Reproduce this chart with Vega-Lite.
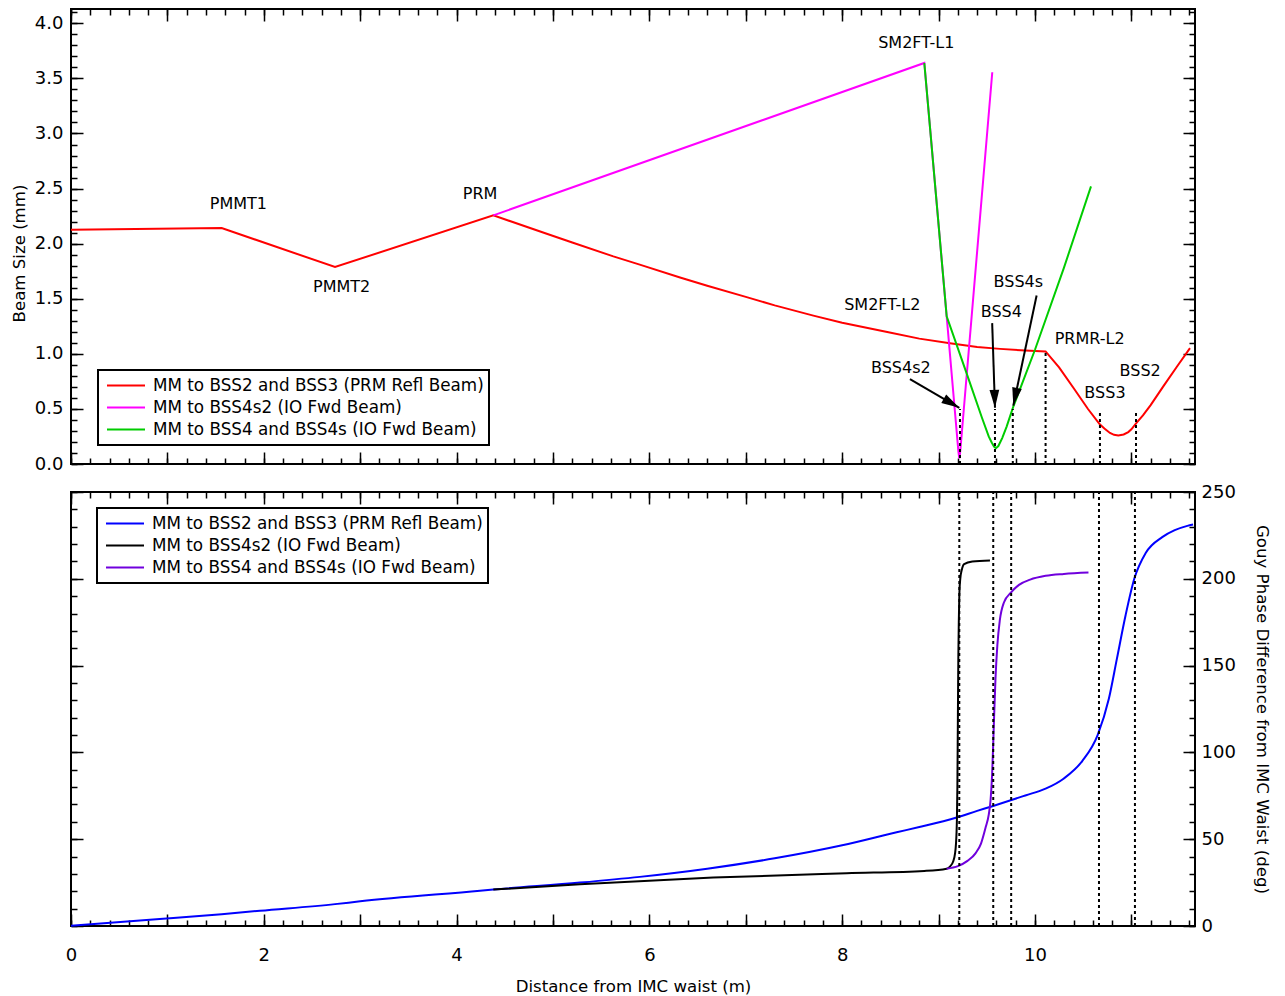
{
  "$schema": "https://vega.github.io/schema/vega-lite/v6.json",
  "background": "white",
  "padding": {"left": 10, "top": 7, "right": 5, "bottom": 0},
  "spacing": 8,
  "resolve": {"scale": {"color": "independent"}, "legend": {"color": "independent"}},
  "config": {
    "view": {"stroke": "black", "strokeWidth": 2},
    "font": "DejaVu Sans",
    "axis": {"domain": false, "grid": false, "tickColor": "black", "tickWidth": 1.5, "labelColor": "black", "labelFont": "DejaVu Sans", "labelFontSize": 18, "titleFont": "DejaVu Sans", "titleFontSize": 16.6, "titleFontWeight": "normal", "titleColor": "black", "labelFlush": false, "labelOverlap": false},
    "legend": {"symbolType": "stroke", "symbolSize": 1444, "symbolStrokeWidth": 2, "clipHeight": 21, "rowPadding": 1, "padding": 5, "strokeColor": "black", "strokeWidth": 2, "fillColor": "white", "labelFont": "DejaVu Sans", "labelFontSize": 16.8, "labelColor": "black", "labelOffset": 7, "symbolOffset": 3, "labelLimit": 0}
  },
  "datasets": {
    "beam": [
      {"series": "MM to BSS2 and BSS3 (PRM Refl Beam)", "x": 0, "w": 2.127},
      {"series": "MM to BSS2 and BSS3 (PRM Refl Beam)", "x": 1.563, "w": 2.142},
      {"series": "MM to BSS2 and BSS3 (PRM Refl Beam)", "x": 2.739, "w": 1.788},
      {"series": "MM to BSS2 and BSS3 (PRM Refl Beam)", "x": 4.381, "w": 2.257},
      {"series": "MM to BSS2 and BSS3 (PRM Refl Beam)", "x": 4.935, "w": 2.09},
      {"series": "MM to BSS2 and BSS3 (PRM Refl Beam)", "x": 5.2, "w": 2.011},
      {"series": "MM to BSS2 and BSS3 (PRM Refl Beam)", "x": 5.626, "w": 1.885},
      {"series": "MM to BSS2 and BSS3 (PRM Refl Beam)", "x": 5.9, "w": 1.81},
      {"series": "MM to BSS2 and BSS3 (PRM Refl Beam)", "x": 6.318, "w": 1.693},
      {"series": "MM to BSS2 and BSS3 (PRM Refl Beam)", "x": 6.6, "w": 1.618},
      {"series": "MM to BSS2 and BSS3 (PRM Refl Beam)", "x": 7.009, "w": 1.515},
      {"series": "MM to BSS2 and BSS3 (PRM Refl Beam)", "x": 7.3, "w": 1.44},
      {"series": "MM to BSS2 and BSS3 (PRM Refl Beam)", "x": 7.701, "w": 1.347},
      {"series": "MM to BSS2 and BSS3 (PRM Refl Beam)", "x": 8.0, "w": 1.283},
      {"series": "MM to BSS2 and BSS3 (PRM Refl Beam)", "x": 8.48, "w": 1.195},
      {"series": "MM to BSS2 and BSS3 (PRM Refl Beam)", "x": 8.8, "w": 1.138},
      {"series": "MM to BSS2 and BSS3 (PRM Refl Beam)", "x": 9.118, "w": 1.096},
      {"series": "MM to BSS2 and BSS3 (PRM Refl Beam)", "x": 9.4, "w": 1.063},
      {"series": "MM to BSS2 and BSS3 (PRM Refl Beam)", "x": 9.637, "w": 1.045},
      {"series": "MM to BSS2 and BSS3 (PRM Refl Beam)", "x": 9.9, "w": 1.03},
      {"series": "MM to BSS2 and BSS3 (PRM Refl Beam)", "x": 10.11, "w": 1.022},
      {"series": "MM to BSS2 and BSS3 (PRM Refl Beam)", "x": 10.25, "w": 0.877},
      {"series": "MM to BSS2 and BSS3 (PRM Refl Beam)", "x": 10.4, "w": 0.69},
      {"series": "MM to BSS2 and BSS3 (PRM Refl Beam)", "x": 10.55, "w": 0.499},
      {"series": "MM to BSS2 and BSS3 (PRM Refl Beam)", "x": 10.672, "w": 0.36},
      {"series": "MM to BSS2 and BSS3 (PRM Refl Beam)", "x": 10.72, "w": 0.322},
      {"series": "MM to BSS2 and BSS3 (PRM Refl Beam)", "x": 10.778, "w": 0.282},
      {"series": "MM to BSS2 and BSS3 (PRM Refl Beam)", "x": 10.82, "w": 0.265},
      {"series": "MM to BSS2 and BSS3 (PRM Refl Beam)", "x": 10.864, "w": 0.259},
      {"series": "MM to BSS2 and BSS3 (PRM Refl Beam)", "x": 10.92, "w": 0.268},
      {"series": "MM to BSS2 and BSS3 (PRM Refl Beam)", "x": 10.968, "w": 0.29},
      {"series": "MM to BSS2 and BSS3 (PRM Refl Beam)", "x": 11.0, "w": 0.315},
      {"series": "MM to BSS2 and BSS3 (PRM Refl Beam)", "x": 11.055, "w": 0.375},
      {"series": "MM to BSS2 and BSS3 (PRM Refl Beam)", "x": 11.12, "w": 0.441},
      {"series": "MM to BSS2 and BSS3 (PRM Refl Beam)", "x": 11.2, "w": 0.534},
      {"series": "MM to BSS2 and BSS3 (PRM Refl Beam)", "x": 11.331, "w": 0.705},
      {"series": "MM to BSS2 and BSS3 (PRM Refl Beam)", "x": 11.47, "w": 0.88},
      {"series": "MM to BSS2 and BSS3 (PRM Refl Beam)", "x": 11.608, "w": 1.052},
      {"series": "MM to BSS4s2 (IO Fwd Beam)", "x": 4.381, "w": 2.257},
      {"series": "MM to BSS4s2 (IO Fwd Beam)", "x": 8.852, "w": 3.64},
      {"series": "MM to BSS4s2 (IO Fwd Beam)", "x": 9.084, "w": 1.34},
      {"series": "MM to BSS4s2 (IO Fwd Beam)", "x": 9.197, "w": 0.2},
      {"series": "MM to BSS4s2 (IO Fwd Beam)", "x": 9.206, "w": 0.11},
      {"series": "MM to BSS4s2 (IO Fwd Beam)", "x": 9.215, "w": 0.05},
      {"series": "MM to BSS4s2 (IO Fwd Beam)", "x": 9.224, "w": 0.11},
      {"series": "MM to BSS4s2 (IO Fwd Beam)", "x": 9.233, "w": 0.2},
      {"series": "MM to BSS4s2 (IO Fwd Beam)", "x": 9.557, "w": 3.556},
      {"series": "MM to BSS4 and BSS4s (IO Fwd Beam)", "x": 8.852, "w": 3.64},
      {"series": "MM to BSS4 and BSS4s (IO Fwd Beam)", "x": 9.084, "w": 1.34},
      {"series": "MM to BSS4 and BSS4s (IO Fwd Beam)", "x": 9.3, "w": 0.8},
      {"series": "MM to BSS4 and BSS4s (IO Fwd Beam)", "x": 9.45, "w": 0.42},
      {"series": "MM to BSS4 and BSS4s (IO Fwd Beam)", "x": 9.52, "w": 0.25},
      {"series": "MM to BSS4 and BSS4s (IO Fwd Beam)", "x": 9.551, "w": 0.195},
      {"series": "MM to BSS4 and BSS4s (IO Fwd Beam)", "x": 9.575, "w": 0.158},
      {"series": "MM to BSS4 and BSS4s (IO Fwd Beam)", "x": 9.595, "w": 0.144},
      {"series": "MM to BSS4 and BSS4s (IO Fwd Beam)", "x": 9.62, "w": 0.163},
      {"series": "MM to BSS4 and BSS4s (IO Fwd Beam)", "x": 9.66, "w": 0.235},
      {"series": "MM to BSS4 and BSS4s (IO Fwd Beam)", "x": 9.706, "w": 0.34},
      {"series": "MM to BSS4 and BSS4s (IO Fwd Beam)", "x": 9.775, "w": 0.52},
      {"series": "MM to BSS4 and BSS4s (IO Fwd Beam)", "x": 10.0, "w": 1.037},
      {"series": "MM to BSS4 and BSS4s (IO Fwd Beam)", "x": 10.3, "w": 1.78},
      {"series": "MM to BSS4 and BSS4s (IO Fwd Beam)", "x": 10.581, "w": 2.52}
    ],
    "gouy": [
      {"series": "MM to BSS2 and BSS3 (PRM Refl Beam)", "x": 0, "g": 0.2},
      {"series": "MM to BSS2 and BSS3 (PRM Refl Beam)", "x": 0.92, "g": 4.0},
      {"series": "MM to BSS2 and BSS3 (PRM Refl Beam)", "x": 1.563, "g": 6.8},
      {"series": "MM to BSS2 and BSS3 (PRM Refl Beam)", "x": 1.96, "g": 8.8},
      {"series": "MM to BSS2 and BSS3 (PRM Refl Beam)", "x": 2.739, "g": 12.6},
      {"series": "MM to BSS2 and BSS3 (PRM Refl Beam)", "x": 3.0, "g": 14.2},
      {"series": "MM to BSS2 and BSS3 (PRM Refl Beam)", "x": 4.243, "g": 20.3},
      {"series": "MM to BSS2 and BSS3 (PRM Refl Beam)", "x": 4.381, "g": 21.0},
      {"series": "MM to BSS2 and BSS3 (PRM Refl Beam)", "x": 5.28, "g": 25.0},
      {"series": "MM to BSS2 and BSS3 (PRM Refl Beam)", "x": 5.9, "g": 28.3},
      {"series": "MM to BSS2 and BSS3 (PRM Refl Beam)", "x": 6.6, "g": 33.0},
      {"series": "MM to BSS2 and BSS3 (PRM Refl Beam)", "x": 7.3, "g": 39.0},
      {"series": "MM to BSS2 and BSS3 (PRM Refl Beam)", "x": 8.0, "g": 46.5},
      {"series": "MM to BSS2 and BSS3 (PRM Refl Beam)", "x": 8.565, "g": 54.0},
      {"series": "MM to BSS2 and BSS3 (PRM Refl Beam)", "x": 8.8, "g": 57.0},
      {"series": "MM to BSS2 and BSS3 (PRM Refl Beam)", "x": 9.188, "g": 62.5},
      {"series": "MM to BSS2 and BSS3 (PRM Refl Beam)", "x": 9.4, "g": 66.3},
      {"series": "MM to BSS2 and BSS3 (PRM Refl Beam)", "x": 9.558, "g": 69.0},
      {"series": "MM to BSS2 and BSS3 (PRM Refl Beam)", "x": 9.748, "g": 72.4},
      {"series": "MM to BSS2 and BSS3 (PRM Refl Beam)", "x": 9.9, "g": 75.2},
      {"series": "MM to BSS2 and BSS3 (PRM Refl Beam)", "x": 10.11, "g": 79.1},
      {"series": "MM to BSS2 and BSS3 (PRM Refl Beam)", "x": 10.3, "g": 85.0},
      {"series": "MM to BSS2 and BSS3 (PRM Refl Beam)", "x": 10.49, "g": 95.0},
      {"series": "MM to BSS2 and BSS3 (PRM Refl Beam)", "x": 10.65, "g": 110.0},
      {"series": "MM to BSS2 and BSS3 (PRM Refl Beam)", "x": 10.767, "g": 131.0},
      {"series": "MM to BSS2 and BSS3 (PRM Refl Beam)", "x": 10.85, "g": 154.0},
      {"series": "MM to BSS2 and BSS3 (PRM Refl Beam)", "x": 10.94, "g": 179.0},
      {"series": "MM to BSS2 and BSS3 (PRM Refl Beam)", "x": 11.03, "g": 200.0},
      {"series": "MM to BSS2 and BSS3 (PRM Refl Beam)", "x": 11.15, "g": 215.0},
      {"series": "MM to BSS2 and BSS3 (PRM Refl Beam)", "x": 11.32, "g": 224.0},
      {"series": "MM to BSS2 and BSS3 (PRM Refl Beam)", "x": 11.45, "g": 228.0},
      {"series": "MM to BSS2 and BSS3 (PRM Refl Beam)", "x": 11.58, "g": 230.5},
      {"series": "MM to BSS2 and BSS3 (PRM Refl Beam)", "x": 11.64, "g": 231.3},
      {"series": "MM to BSS4s2 (IO Fwd Beam)", "x": 4.381, "g": 21.0},
      {"series": "MM to BSS4s2 (IO Fwd Beam)", "x": 5.28, "g": 24.1},
      {"series": "MM to BSS4s2 (IO Fwd Beam)", "x": 6.663, "g": 27.9},
      {"series": "MM to BSS4s2 (IO Fwd Beam)", "x": 8.047, "g": 30.4},
      {"series": "MM to BSS4s2 (IO Fwd Beam)", "x": 8.852, "g": 31.7},
      {"series": "MM to BSS4s2 (IO Fwd Beam)", "x": 9.084, "g": 33.0},
      {"series": "MM to BSS4s2 (IO Fwd Beam)", "x": 9.12, "g": 34.4},
      {"series": "MM to BSS4s2 (IO Fwd Beam)", "x": 9.15, "g": 37.0},
      {"series": "MM to BSS4s2 (IO Fwd Beam)", "x": 9.17, "g": 41.5},
      {"series": "MM to BSS4s2 (IO Fwd Beam)", "x": 9.18, "g": 47.0},
      {"series": "MM to BSS4s2 (IO Fwd Beam)", "x": 9.19, "g": 61.0},
      {"series": "MM to BSS4s2 (IO Fwd Beam)", "x": 9.195, "g": 80.0},
      {"series": "MM to BSS4s2 (IO Fwd Beam)", "x": 9.2, "g": 118.0},
      {"series": "MM to BSS4s2 (IO Fwd Beam)", "x": 9.205, "g": 155.0},
      {"series": "MM to BSS4s2 (IO Fwd Beam)", "x": 9.21, "g": 176.0},
      {"series": "MM to BSS4s2 (IO Fwd Beam)", "x": 9.215, "g": 190.0},
      {"series": "MM to BSS4s2 (IO Fwd Beam)", "x": 9.225, "g": 200.0},
      {"series": "MM to BSS4s2 (IO Fwd Beam)", "x": 9.24, "g": 205.0},
      {"series": "MM to BSS4s2 (IO Fwd Beam)", "x": 9.265, "g": 208.5},
      {"series": "MM to BSS4s2 (IO Fwd Beam)", "x": 9.35, "g": 210.0},
      {"series": "MM to BSS4s2 (IO Fwd Beam)", "x": 9.533, "g": 210.6},
      {"series": "MM to BSS4 and BSS4s (IO Fwd Beam)", "x": 9.084, "g": 33.0},
      {"series": "MM to BSS4 and BSS4s (IO Fwd Beam)", "x": 9.2, "g": 34.5},
      {"series": "MM to BSS4 and BSS4s (IO Fwd Beam)", "x": 9.3, "g": 37.5},
      {"series": "MM to BSS4 and BSS4s (IO Fwd Beam)", "x": 9.385, "g": 42.0},
      {"series": "MM to BSS4 and BSS4s (IO Fwd Beam)", "x": 9.44, "g": 47.5},
      {"series": "MM to BSS4 and BSS4s (IO Fwd Beam)", "x": 9.489, "g": 57.0},
      {"series": "MM to BSS4 and BSS4s (IO Fwd Beam)", "x": 9.52, "g": 64.0},
      {"series": "MM to BSS4 and BSS4s (IO Fwd Beam)", "x": 9.54, "g": 73.0},
      {"series": "MM to BSS4 and BSS4s (IO Fwd Beam)", "x": 9.555, "g": 87.0},
      {"series": "MM to BSS4 and BSS4s (IO Fwd Beam)", "x": 9.565, "g": 102.0},
      {"series": "MM to BSS4 and BSS4s (IO Fwd Beam)", "x": 9.575, "g": 119.0},
      {"series": "MM to BSS4 and BSS4s (IO Fwd Beam)", "x": 9.59, "g": 142.0},
      {"series": "MM to BSS4 and BSS4s (IO Fwd Beam)", "x": 9.61, "g": 162.0},
      {"series": "MM to BSS4 and BSS4s (IO Fwd Beam)", "x": 9.635, "g": 176.0},
      {"series": "MM to BSS4 and BSS4s (IO Fwd Beam)", "x": 9.679, "g": 186.5},
      {"series": "MM to BSS4 and BSS4s (IO Fwd Beam)", "x": 9.75, "g": 192.0},
      {"series": "MM to BSS4 and BSS4s (IO Fwd Beam)", "x": 9.834, "g": 196.5},
      {"series": "MM to BSS4 and BSS4s (IO Fwd Beam)", "x": 9.95, "g": 199.5},
      {"series": "MM to BSS4 and BSS4s (IO Fwd Beam)", "x": 10.11, "g": 201.7},
      {"series": "MM to BSS4 and BSS4s (IO Fwd Beam)", "x": 10.3, "g": 202.8},
      {"series": "MM to BSS4 and BSS4s (IO Fwd Beam)", "x": 10.555, "g": 203.6}
    ],
    "topmarks": [
      {"name": "BSS4s2", "x": 9.222, "lo": 0, "hi": 0.5},
      {"name": "BSS4", "x": 9.585, "lo": 0, "hi": 0.5},
      {"name": "BSS4s", "x": 9.77, "lo": 0, "hi": 0.5},
      {"name": "PRMR-L2", "x": 10.11, "lo": 0, "hi": 1.02},
      {"name": "BSS3", "x": 10.674, "lo": 0, "hi": 0.48},
      {"name": "BSS2", "x": 11.048, "lo": 0, "hi": 0.48}
    ],
    "bottommarks": [
      {"name": "BSS4s2", "x": 9.215, "lo": 0, "hi": 250},
      {"name": "BSS4", "x": 9.567, "lo": 0, "hi": 250},
      {"name": "BSS4s", "x": 9.753, "lo": 0, "hi": 250},
      {"name": "BSS3", "x": 10.664, "lo": 0, "hi": 250},
      {"name": "BSS2", "x": 11.037, "lo": 0, "hi": 250}
    ],
    "arrows": [
      {"name": "BSS4s2", "x": 8.703, "y": 0.77, "x2": 9.215, "y2": 0.51},
      {"name": "BSS4", "x": 9.556, "y": 1.279, "x2": 9.585, "y2": 0.51},
      {"name": "BSS4s", "x": 10.017, "y": 1.53, "x2": 9.775, "y2": 0.53}
    ],
    "labels": [
      {"label": "PMMT1", "x": 1.736, "y": 2.36},
      {"label": "PMMT2", "x": 2.808, "y": 1.606},
      {"label": "PRM", "x": 4.243, "y": 2.448},
      {"label": "SM2FT-L1", "x": 8.769, "y": 3.822},
      {"label": "SM2FT-L2", "x": 8.416, "y": 1.446},
      {"label": "BSS4s2", "x": 8.608, "y": 0.87},
      {"label": "BSS4", "x": 9.651, "y": 1.376},
      {"label": "BSS4s", "x": 9.827, "y": 1.649},
      {"label": "PRMR-L2", "x": 10.567, "y": 1.137},
      {"label": "BSS3", "x": 10.726, "y": 0.643},
      {"label": "BSS2", "x": 11.091, "y": 0.84}
    ]
  },
  "vconcat": [
    {
      "width": 1124,
      "height": 455,
      "resolve": {"axis": {"x": "independent", "y": "independent"}},
      "layer": [
        {
          "data": {"name": "beam"},
          "transform": [{"filter": {"field": "series", "equal": "MM to BSS2 and BSS3 (PRM Refl Beam)"}}],
          "mark": {"type": "line", "strokeWidth": 2},
          "encoding": {
            "x": {"field": "x", "type": "quantitative", "scale": {"domain": [0, 11.66], "nice": false, "zero": false}, "axis": {"orient": "bottom", "values": [0,1,2,3,4,5,6,7,8,9,10,11], "tickSize": -12, "labels": false, "title": null}},
            "y": {"field": "w", "type": "quantitative", "scale": {"domain": [0, 4.13], "nice": false}, "axis": {"orient": "left", "values": [0,0.5,1,1.5,2,2.5,3,3.5,4], "tickSize": -12, "labelPadding": 20, "format": ".1f", "title": "Beam Size (mm)", "titlePadding": 7, "titleY": 244}},
            "color": {"field": "series", "type": "nominal", "scale": {"domain": ["MM to BSS2 and BSS3 (PRM Refl Beam)", "MM to BSS4s2 (IO Fwd Beam)", "MM to BSS4 and BSS4s (IO Fwd Beam)"], "range": ["#ff0000", "#ff00ff", "#00cc00"]}, "legend": {"orient": "none", "legendX": 27, "legendY": 361, "title": null}}
          }
        },
        {
          "data": {"name": "beam"},
          "transform": [{"filter": {"field": "series", "equal": "MM to BSS4s2 (IO Fwd Beam)"}}],
          "mark": {"type": "line", "strokeWidth": 2},
          "encoding": {
            "x": {"field": "x", "type": "quantitative", "axis": {"orient": "bottom", "values": [0,0.2,0.4,0.6,0.8,1,1.2,1.4,1.6,1.8,2,2.2,2.4,2.6,2.8,3,3.2,3.4,3.6,3.8,4,4.2,4.4,4.6,4.8,5,5.2,5.4,5.6,5.8,6,6.2,6.4,6.6,6.8,7,7.2,7.4,7.6,7.8,8,8.2,8.4,8.6,8.8,9,9.2,9.4,9.6,9.8,10,10.2,10.4,10.6,10.8,11,11.2,11.4,11.6], "tickSize": -6, "labels": false, "title": null}},
            "y": {"field": "w", "type": "quantitative", "axis": {"orient": "left", "values": [0,0.1,0.2,0.3,0.4,0.5,0.6,0.7,0.8,0.9,1,1.1,1.2,1.3,1.4,1.5,1.6,1.7,1.8,1.9,2,2.1,2.2,2.3,2.4,2.5,2.6,2.7,2.8,2.9,3,3.1,3.2,3.3,3.4,3.5,3.6,3.7,3.8,3.9,4,4.1], "tickSize": -6, "labels": false, "title": null}},
            "color": {"field": "series", "type": "nominal", "legend": {"orient": "none", "legendX": 27, "legendY": 361, "title": null}}
          }
        },
        {
          "data": {"name": "beam"},
          "transform": [{"filter": {"field": "series", "equal": "MM to BSS4 and BSS4s (IO Fwd Beam)"}}],
          "mark": {"type": "line", "strokeWidth": 2},
          "encoding": {
            "x": {"field": "x", "type": "quantitative", "axis": {"orient": "top", "values": [0,1,2,3,4,5,6,7,8,9,10,11], "tickSize": -12, "labels": false, "title": null}},
            "y": {"field": "w", "type": "quantitative", "axis": {"orient": "right", "values": [0,0.5,1,1.5,2,2.5,3,3.5,4], "tickSize": -12, "labels": false, "title": null}},
            "color": {"field": "series", "type": "nominal", "legend": {"orient": "none", "legendX": 27, "legendY": 361, "title": null}}
          }
        },
        {
          "data": {"name": "topmarks"},
          "mark": {"type": "rule", "color": "black", "strokeWidth": 2, "strokeDash": [3, 3]},
          "encoding": {
            "x": {"field": "x", "type": "quantitative", "axis": {"orient": "top", "values": [0,0.2,0.4,0.6,0.8,1,1.2,1.4,1.6,1.8,2,2.2,2.4,2.6,2.8,3,3.2,3.4,3.6,3.8,4,4.2,4.4,4.6,4.8,5,5.2,5.4,5.6,5.8,6,6.2,6.4,6.6,6.8,7,7.2,7.4,7.6,7.8,8,8.2,8.4,8.6,8.8,9,9.2,9.4,9.6,9.8,10,10.2,10.4,10.6,10.8,11,11.2,11.4,11.6], "tickSize": -6, "labels": false, "title": null}},
            "y": {"field": "lo", "type": "quantitative", "axis": {"orient": "right", "values": [0,0.1,0.2,0.3,0.4,0.5,0.6,0.7,0.8,0.9,1,1.1,1.2,1.3,1.4,1.5,1.6,1.7,1.8,1.9,2,2.1,2.2,2.3,2.4,2.5,2.6,2.7,2.8,2.9,3,3.1,3.2,3.3,3.4,3.5,3.6,3.7,3.8,3.9,4,4.1], "tickSize": -6, "labels": false, "title": null}},
            "y2": {"field": "hi"}
          }
        },
        {
          "data": {"name": "arrows"},
          "mark": {"type": "rule", "color": "black", "strokeWidth": 2},
          "encoding": {
            "x": {"field": "x", "type": "quantitative", "axis": null},
            "y": {"field": "y", "type": "quantitative", "axis": null},
            "x2": {"field": "x2"},
            "y2": {"field": "y2"}
          }
        },
        {
          "data": {"name": "arrows"},
          "transform": [{"calculate": "atan2((datum.x2 - datum.x) * 96.4, (datum.y2 - datum.y) * 110.1) * 180 / PI", "as": "ang"}],
          "mark": {"type": "point", "shape": "M0,0L-0.27,1L0.27,1Z", "filled": true, "color": "black", "opacity": 1, "size": 1296, "strokeWidth": 0},
          "encoding": {
            "x": {"field": "x2", "type": "quantitative", "axis": null},
            "y": {"field": "y2", "type": "quantitative", "axis": null},
            "angle": {"field": "ang", "type": "quantitative", "scale": null}
          }
        },
        {
          "data": {"name": "labels"},
          "mark": {"type": "text", "font": "DejaVu Sans", "fontSize": 16, "color": "black", "align": "center", "baseline": "middle"},
          "encoding": {
            "x": {"field": "x", "type": "quantitative", "axis": null},
            "y": {"field": "y", "type": "quantitative", "axis": null},
            "text": {"field": "label"}
          }
        }
      ]
    },
    {
      "width": 1124,
      "height": 434,
      "resolve": {"axis": {"x": "independent", "y": "independent"}},
      "layer": [
        {
          "data": {"name": "gouy"},
          "transform": [{"filter": {"field": "series", "equal": "MM to BSS2 and BSS3 (PRM Refl Beam)"}}],
          "mark": {"type": "line", "strokeWidth": 2, "interpolate": "monotone"},
          "encoding": {
            "x": {"field": "x", "type": "quantitative", "scale": {"domain": [0, 11.66], "nice": false, "zero": false}, "axis": {"orient": "bottom", "values": [0,1,2,3,4,5,6,7,8,9,10,11], "tickSize": -12, "labelPadding": 32, "labelExpr": "datum.value % 2 === 0 ? datum.label : ''", "title": "Distance from IMC waist (m)", "titlePadding": 14}},
            "y": {"field": "g", "type": "quantitative", "scale": {"domain": [0, 250], "nice": false}, "axis": {"orient": "left", "values": [0,50,100,150,200,250], "tickSize": -12, "labels": false, "title": null}},
            "color": {"field": "series", "type": "nominal", "scale": {"domain": ["MM to BSS2 and BSS3 (PRM Refl Beam)", "MM to BSS4s2 (IO Fwd Beam)", "MM to BSS4 and BSS4s (IO Fwd Beam)"], "range": ["#0000ff", "#000000", "#7000dd"]}, "legend": {"orient": "none", "legendX": 26, "legendY": 16, "title": null}}
          }
        },
        {
          "data": {"name": "gouy"},
          "transform": [{"filter": {"field": "series", "equal": "MM to BSS4s2 (IO Fwd Beam)"}}],
          "mark": {"type": "line", "strokeWidth": 2, "interpolate": "monotone"},
          "encoding": {
            "x": {"field": "x", "type": "quantitative", "axis": {"orient": "bottom", "values": [0,0.2,0.4,0.6,0.8,1,1.2,1.4,1.6,1.8,2,2.2,2.4,2.6,2.8,3,3.2,3.4,3.6,3.8,4,4.2,4.4,4.6,4.8,5,5.2,5.4,5.6,5.8,6,6.2,6.4,6.6,6.8,7,7.2,7.4,7.6,7.8,8,8.2,8.4,8.6,8.8,9,9.2,9.4,9.6,9.8,10,10.2,10.4,10.6,10.8,11,11.2,11.4,11.6], "tickSize": -6, "labels": false, "title": null}},
            "y": {"field": "g", "type": "quantitative", "axis": {"orient": "left", "values": [0,10,20,30,40,50,60,70,80,90,100,110,120,130,140,150,160,170,180,190,200,210,220,230,240,250], "tickSize": -6, "labels": false, "title": null}},
            "color": {"field": "series", "type": "nominal", "legend": {"orient": "none", "legendX": 26, "legendY": 16, "title": null}}
          }
        },
        {
          "data": {"name": "gouy"},
          "transform": [{"filter": {"field": "series", "equal": "MM to BSS4 and BSS4s (IO Fwd Beam)"}}],
          "mark": {"type": "line", "strokeWidth": 2, "interpolate": "monotone"},
          "encoding": {
            "x": {"field": "x", "type": "quantitative", "axis": {"orient": "top", "values": [0,1,2,3,4,5,6,7,8,9,10,11], "tickSize": -12, "labels": false, "title": null}},
            "y": {"field": "g", "type": "quantitative", "axis": {"orient": "right", "values": [0,50,100,150,200,250], "tickSize": -12, "labelPadding": 18, "title": "Gouy Phase Difference from IMC Waist (deg)", "titlePadding": 18}},
            "color": {"field": "series", "type": "nominal", "legend": {"orient": "none", "legendX": 26, "legendY": 16, "title": null}}
          }
        },
        {
          "data": {"name": "bottommarks"},
          "mark": {"type": "rule", "color": "black", "strokeWidth": 2, "strokeDash": [3, 3]},
          "encoding": {
            "x": {"field": "x", "type": "quantitative", "axis": {"orient": "top", "values": [0,0.2,0.4,0.6,0.8,1,1.2,1.4,1.6,1.8,2,2.2,2.4,2.6,2.8,3,3.2,3.4,3.6,3.8,4,4.2,4.4,4.6,4.8,5,5.2,5.4,5.6,5.8,6,6.2,6.4,6.6,6.8,7,7.2,7.4,7.6,7.8,8,8.2,8.4,8.6,8.8,9,9.2,9.4,9.6,9.8,10,10.2,10.4,10.6,10.8,11,11.2,11.4,11.6], "tickSize": -6, "labels": false, "title": null}},
            "y": {"field": "lo", "type": "quantitative", "axis": {"orient": "right", "values": [0,10,20,30,40,50,60,70,80,90,100,110,120,130,140,150,160,170,180,190,200,210,220,230,240,250], "tickSize": -6, "labels": false, "title": null}},
            "y2": {"field": "hi"}
          }
        }
      ]
    }
  ]
}
